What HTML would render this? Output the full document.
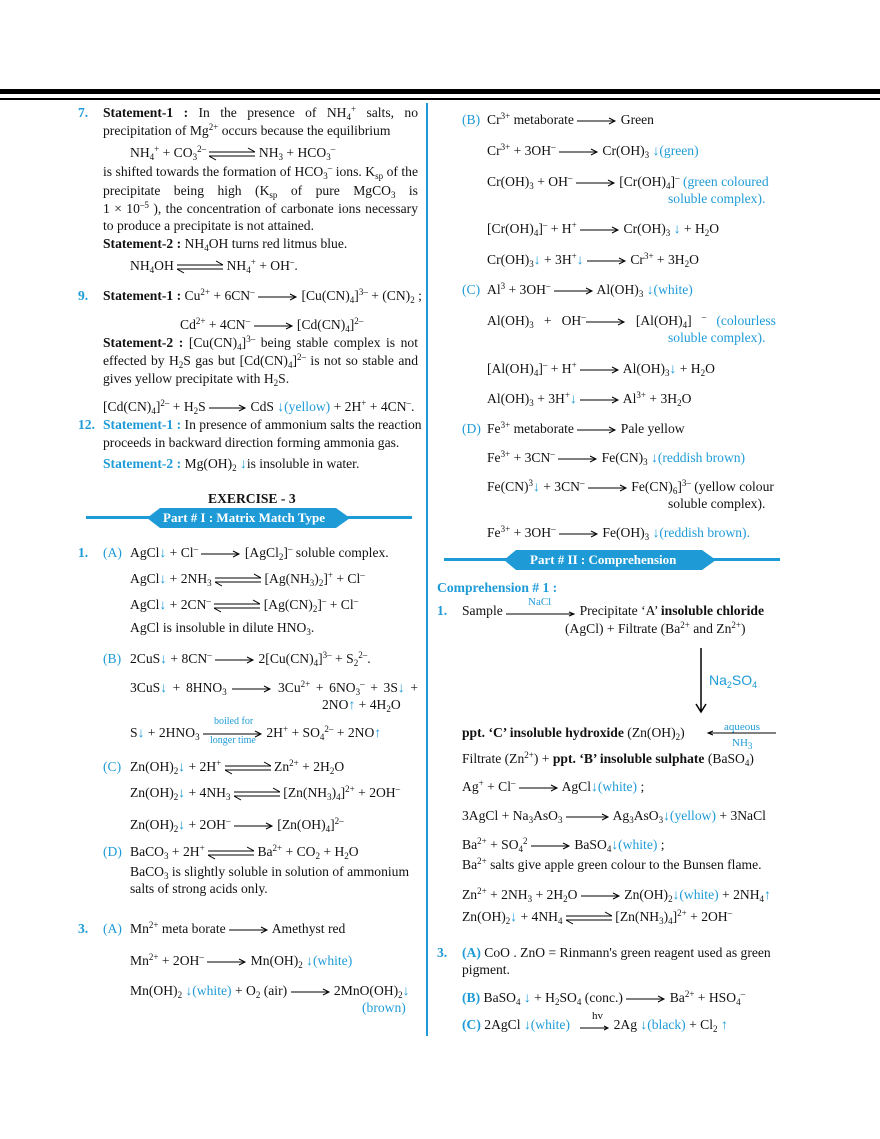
<!DOCTYPE html>
<html><head><meta charset="utf-8">
<style>
html,body{margin:0;padding:0;background:#fff;}
body{width:880px;height:1139px;position:relative;overflow:hidden;font-family:"Liberation Serif",serif;font-size:13.6px;color:#111;}
.l{position:absolute;white-space:nowrap;line-height:18px;height:18px;}
.j{white-space:normal;text-align:justify;text-align-last:justify;overflow:hidden;}
.b{color:#1e9bd7;}
.bb{color:#1e9bd7;font-weight:bold;}
b{font-weight:bold;}
sub{font-size:9px;vertical-align:-3px;line-height:0;}
sup{font-size:9px;vertical-align:5px;line-height:0;}
svg{vertical-align:middle;}
.n{position:absolute;line-height:18px;font-weight:bold;color:#1e9bd7;}
</style></head><body>
<div style="position:absolute;left:0;top:89px;width:880px;height:5px;background:#000"></div>
<div style="position:absolute;left:0;top:98px;width:880px;height:2px;background:#000"></div>
<div style="position:absolute;left:426px;top:103px;width:2px;height:933px;background:#1e9bd7"></div>

<!-- LEFT COLUMN -->
<div class="n" style="left:78px;top:104px">7.</div>
<div class="l j" style="left:103px;top:104px;width:315px"><b>Statement-1 :</b> In the presence of NH<sub>4</sub><sup>+</sup> salts, no</div>
<div class="l" style="left:103px;top:122px">precipitation of Mg<sup>2+</sup> occurs because the equilibrium</div>
<div class="l" style="left:130px;top:144px">NH<sub>4</sub><sup>+</sup> + CO<sub>3</sub><sup>2–</sup> <svg width="46" height="14"><path d="M0 5H46M39 1L46 5M0 9H46M7 13L0 9" stroke="#000" fill="none"/></svg> NH<sub>3</sub> + HCO<sub>3</sub><sup>–</sup></div>
<div class="l j" style="left:103px;top:163px;width:315px">is shifted towards the formation of HCO<sub>3</sub><sup>–</sup> ions. K<sub>sp</sub> of the</div>
<div class="l j" style="left:103px;top:182px;width:315px">precipitate being high (K<sub>sp</sub> of pure MgCO<sub>3</sub> is</div>
<div class="l j" style="left:103px;top:200px;width:315px">1 × 10<sup>–5</sup> ), the concentration of carbonate ions necessary</div>
<div class="l" style="left:103px;top:217px">to produce a precipitate is not attained.</div>
<div class="l" style="left:103px;top:235px"><b>Statement-2 :</b> NH<sub>4</sub>OH turns red litmus blue.</div>
<div class="l" style="left:130px;top:257px">NH<sub>4</sub>OH <svg width="46" height="14"><path d="M0 5H46M39 1L46 5M0 9H46M7 13L0 9" stroke="#000" fill="none"/></svg> NH<sub>4</sub><sup>+</sup> + OH<sup>–</sup>.</div>

<div class="n" style="left:78px;top:287px">9.</div>
<div class="l" style="left:103px;top:287px"><b>Statement-1 :</b> Cu<sup>2+</sup> + 6CN<sup>–</sup> <svg width="40" height="10"><path d="M0 5H38M32 2L38 5L32 8" stroke="#000" fill="none"/></svg> [Cu(CN)<sub>4</sub>]<sup>3–</sup> + (CN)<sub>2</sub> ;</div>
<div class="l" style="left:180px;top:316px">Cd<sup>2+</sup> + 4CN<sup>–</sup> <svg width="40" height="10"><path d="M0 5H38M32 2L38 5L32 8" stroke="#000" fill="none"/></svg> [Cd(CN)<sub>4</sub>]<sup>2–</sup></div>
<div class="l j" style="left:103px;top:334px;width:315px"><b>Statement-2 :</b> [Cu(CN)<sub>4</sub>]<sup>3–</sup> being stable complex is not</div>
<div class="l j" style="left:103px;top:352px;width:315px">effected by H<sub>2</sub>S gas but [Cd(CN)<sub>4</sub>]<sup>2–</sup> is not so stable and</div>
<div class="l" style="left:103px;top:370px">gives yellow precipitate with H<sub>2</sub>S.</div>
<div class="l" style="left:103px;top:398px">[Cd(CN)<sub>4</sub>]<sup>2–</sup> + H<sub>2</sub>S <svg width="38" height="10"><path d="M0 5H36M30 2L36 5L30 8" stroke="#000" fill="none"/></svg> CdS <span class="b">↓(yellow)</span> + 2H<sup>+</sup> + 4CN<sup>–</sup>.</div>
<div class="n" style="left:78px;top:416px">12.</div>
<div class="l" style="left:103px;top:416px"><span class="bb">Statement-1 :</span> In presence of ammonium salts the reaction</div>
<div class="l" style="left:103px;top:434px">proceeds in backward direction forming ammonia gas.</div>
<div class="l" style="left:103px;top:455px"><span class="bb">Statement-2 :</span> Mg(OH)<sub>2</sub> <span class="b">↓</span>is insoluble in water.</div>

<div class="l" style="left:208px;top:490px;font-weight:bold">EXERCISE - 3</div>
<svg style="position:absolute;left:86px;top:507px" width="326" height="22"><rect x="0" y="9" width="326" height="3" fill="#1e9bd7"/><polygon points="61,11 74,1 250,1 264,11 250,21 74,21" fill="#1e9bd7"/></svg>
<div class="l" style="left:163px;top:509px;color:#fff;font-weight:bold;font-size:13px">Part # I : Matrix Match Type</div>

<div class="n" style="left:78px;top:544px">1.</div>
<div class="l b" style="left:103px;top:544px">(A)</div>
<div class="l" style="left:130px;top:544px">AgCl<span class="b">↓</span> + Cl<sup>–</sup> <svg width="40" height="10"><path d="M0 5H38M32 2L38 5L32 8" stroke="#000" fill="none"/></svg> [AgCl<sub>2</sub>]<sup>–</sup> soluble complex.</div>
<div class="l" style="left:130px;top:570px">AgCl<span class="b">↓</span> + 2NH<sub>3</sub> <svg width="46" height="14"><path d="M0 5H46M39 1L46 5M0 9H46M7 13L0 9" stroke="#000" fill="none"/></svg> [Ag(NH<sub>3</sub>)<sub>2</sub>]<sup>+</sup> + Cl<sup>–</sup></div>
<div class="l" style="left:130px;top:596px">AgCl<span class="b">↓</span> + 2CN<sup>–</sup> <svg width="46" height="14"><path d="M0 5H46M39 1L46 5M0 9H46M7 13L0 9" stroke="#000" fill="none"/></svg> [Ag(CN)<sub>2</sub>]<sup>–</sup> + Cl<sup>–</sup></div>
<div class="l" style="left:130px;top:619px">AgCl is insoluble in dilute HNO<sub>3</sub>.</div>

<div class="l b" style="left:103px;top:650px">(B)</div>
<div class="l" style="left:130px;top:650px">2CuS<span class="b">↓</span> + 8CN<sup>–</sup> <svg width="40" height="10"><path d="M0 5H38M32 2L38 5L32 8" stroke="#000" fill="none"/></svg> 2[Cu(CN)<sub>4</sub>]<sup>3–</sup> + S<sub>2</sub><sup>2–</sup>.</div>
<div class="l j" style="left:130px;top:679px;width:288px">3CuS<span class="b">↓</span> + 8HNO<sub>3</sub> <svg width="40" height="10"><path d="M0 5H38M32 2L38 5L32 8" stroke="#000" fill="none"/></svg> 3Cu<sup>2+</sup> + 6NO<sub>3</sub><sup>–</sup> + 3S<span class="b">↓</span> +</div>
<div class="l" style="left:322px;top:696px">2NO<span class="b">↑</span> + 4H<sub>2</sub>O</div>
<div class="l" style="left:130px;top:724px">S<span class="b">↓</span> + 2HNO<sub>3</sub> <svg width="60" height="10"><path d="M0 5H58M52 2L58 5L52 8" stroke="#000" fill="none"/></svg> 2H<sup>+</sup> + SO<sub>4</sub><sup>2–</sup> + 2NO<span class="b">↑</span></div>
<div class="l b" style="left:214px;top:716px;font-size:10px;line-height:12px">boiled for</div>
<div class="l b" style="left:210px;top:735px;font-size:10px;line-height:12px">longer time</div>

<div class="l b" style="left:103px;top:758px">(C)</div>
<div class="l" style="left:130px;top:758px">Zn(OH)<sub>2</sub><span class="b">↓</span> + 2H<sup>+</sup> <svg width="46" height="14"><path d="M0 5H46M39 1L46 5M0 9H46M7 13L0 9" stroke="#000" fill="none"/></svg> Zn<sup>2+</sup> + 2H<sub>2</sub>O</div>
<div class="l" style="left:130px;top:784px">Zn(OH)<sub>2</sub><span class="b">↓</span> + 4NH<sub>3</sub> <svg width="46" height="14"><path d="M0 5H46M39 1L46 5M0 9H46M7 13L0 9" stroke="#000" fill="none"/></svg> [Zn(NH<sub>3</sub>)<sub>4</sub>]<sup>2+</sup> + 2OH<sup>–</sup></div>
<div class="l" style="left:130px;top:816px">Zn(OH)<sub>2</sub><span class="b">↓</span> + 2OH<sup>–</sup> <svg width="40" height="10"><path d="M0 5H38M32 2L38 5L32 8" stroke="#000" fill="none"/></svg> [Zn(OH)<sub>4</sub>]<sup>2–</sup></div>
<div class="l b" style="left:103px;top:843px">(D)</div>
<div class="l" style="left:130px;top:843px">BaCO<sub>3</sub> + 2H<sup>+</sup> <svg width="46" height="14"><path d="M0 5H46M39 1L46 5M0 9H46M7 13L0 9" stroke="#000" fill="none"/></svg> Ba<sup>2+</sup> + CO<sub>2</sub> + H<sub>2</sub>O</div>
<div class="l" style="left:130px;top:863px">BaCO<sub>3</sub> is slightly soluble in solution of ammonium</div>
<div class="l" style="left:130px;top:880px">salts of strong acids only.</div>

<div class="n" style="left:78px;top:920px">3.</div>
<div class="l b" style="left:103px;top:920px">(A)</div>
<div class="l" style="left:130px;top:920px">Mn<sup>2+</sup> meta borate <svg width="40" height="10"><path d="M0 5H38M32 2L38 5L32 8" stroke="#000" fill="none"/></svg> Amethyst red</div>
<div class="l" style="left:130px;top:952px">Mn<sup>2+</sup> + 2OH<sup>–</sup> <svg width="40" height="10"><path d="M0 5H38M32 2L38 5L32 8" stroke="#000" fill="none"/></svg> Mn(OH)<sub>2</sub> <span class="b">↓(white)</span></div>
<div class="l" style="left:130px;top:982px">Mn(OH)<sub>2</sub> <span class="b">↓(white)</span> + O<sub>2</sub> (air) <svg width="40" height="10"><path d="M0 5H38M32 2L38 5L32 8" stroke="#000" fill="none"/></svg> 2MnO(OH)<sub>2</sub><span class="b">↓</span></div>
<div class="l b" style="left:362px;top:999px">(brown)</div>

<!-- RIGHT COLUMN -->
<div class="l b" style="left:462px;top:111px">(B)</div>
<div class="l" style="left:487px;top:111px">Cr<sup>3+</sup> metaborate <svg width="40" height="10"><path d="M0 5H38M32 2L38 5L32 8" stroke="#000" fill="none"/></svg> Green</div>
<div class="l" style="left:487px;top:142px">Cr<sup>3+</sup> + 3OH<sup>–</sup> <svg width="40" height="10"><path d="M0 5H38M32 2L38 5L32 8" stroke="#000" fill="none"/></svg> Cr(OH)<sub>3</sub> <span class="b">↓(green)</span></div>
<div class="l" style="left:487px;top:173px">Cr(OH)<sub>3</sub> + OH<sup>–</sup> <svg width="40" height="10"><path d="M0 5H38M32 2L38 5L32 8" stroke="#000" fill="none"/></svg> [Cr(OH)<sub>4</sub>]<sup>–</sup> <span class="b">(green coloured</span></div>
<div class="l b" style="left:668px;top:190px">soluble complex).</div>
<div class="l" style="left:487px;top:220px">[Cr(OH)<sub>4</sub>]<sup>–</sup> + H<sup>+</sup> <svg width="40" height="10"><path d="M0 5H38M32 2L38 5L32 8" stroke="#000" fill="none"/></svg> Cr(OH)<sub>3</sub> <span class="b">↓</span> + H<sub>2</sub>O</div>
<div class="l" style="left:487px;top:251px">Cr(OH)<sub>3</sub><span class="b">↓</span> + 3H<sup>+</sup><span class="b">↓</span> <svg width="40" height="10"><path d="M0 5H38M32 2L38 5L32 8" stroke="#000" fill="none"/></svg> Cr<sup>3+</sup> + 3H<sub>2</sub>O</div>
<div class="l b" style="left:462px;top:281px">(C)</div>
<div class="l" style="left:487px;top:281px">Al<sup>3</sup> + 3OH<sup>–</sup> <svg width="40" height="10"><path d="M0 5H38M32 2L38 5L32 8" stroke="#000" fill="none"/></svg> Al(OH)<sub>3</sub> <span class="b">↓(white)</span></div>
<div class="l j" style="left:487px;top:312px;width:289px">Al(OH)<sub>3</sub> + OH<sup>–</sup><svg width="40" height="10"><path d="M0 5H38M32 2L38 5L32 8" stroke="#000" fill="none"/></svg> [Al(OH)<sub>4</sub>] <sup>–</sup> <span class="b">(colourless</span></div>
<div class="l b" style="left:668px;top:329px">soluble complex).</div>
<div class="l" style="left:487px;top:360px">[Al(OH)<sub>4</sub>]<sup>–</sup> + H<sup>+</sup> <svg width="40" height="10"><path d="M0 5H38M32 2L38 5L32 8" stroke="#000" fill="none"/></svg> Al(OH)<sub>3</sub><span class="b">↓</span> + H<sub>2</sub>O</div>
<div class="l" style="left:487px;top:390px">Al(OH)<sub>3</sub> + 3H<sup>+</sup><span class="b">↓</span> <svg width="40" height="10"><path d="M0 5H38M32 2L38 5L32 8" stroke="#000" fill="none"/></svg> Al<sup>3+</sup> + 3H<sub>2</sub>O</div>
<div class="l b" style="left:462px;top:420px">(D)</div>
<div class="l" style="left:487px;top:420px">Fe<sup>3+</sup> metaborate <svg width="40" height="10"><path d="M0 5H38M32 2L38 5L32 8" stroke="#000" fill="none"/></svg> Pale yellow</div>
<div class="l" style="left:487px;top:449px">Fe<sup>3+</sup> + 3CN<sup>–</sup> <svg width="40" height="10"><path d="M0 5H38M32 2L38 5L32 8" stroke="#000" fill="none"/></svg> Fe(CN)<sub>3</sub> <span class="b">↓(reddish brown)</span></div>
<div class="l" style="left:487px;top:478px">Fe(CN)<sup>3</sup><span class="b">↓</span> + 3CN<sup>–</sup> <svg width="40" height="10"><path d="M0 5H38M32 2L38 5L32 8" stroke="#000" fill="none"/></svg> Fe(CN)<sub>6</sub>]<sup>3–</sup> (yellow colour</div>
<div class="l" style="left:668px;top:495px">soluble complex).</div>
<div class="l" style="left:487px;top:524px">Fe<sup>3+</sup> + 3OH<sup>–</sup> <svg width="40" height="10"><path d="M0 5H38M32 2L38 5L32 8" stroke="#000" fill="none"/></svg> Fe(OH)<sub>3</sub> <span class="b">↓(reddish brown).</span></div>

<svg style="position:absolute;left:444px;top:549px" width="336" height="22"><rect x="0" y="9" width="336" height="3" fill="#1e9bd7"/><polygon points="60,11 72,1 258,1 272,11 258,21 72,21" fill="#1e9bd7"/></svg>
<div class="l" style="left:530px;top:551px;color:#fff;font-weight:bold;font-size:13px">Part # II : Comprehension</div>

<div class="l bb" style="left:437px;top:579px">Comprehension # 1 :</div>
<div class="n" style="left:437px;top:602px">1.</div>
<div class="l" style="left:462px;top:602px">Sample <svg width="70" height="10"><path d="M0 7H68M63 5L68 7L63 9" stroke="#000" fill="none"/></svg> Precipitate ‘A’ <b>insoluble chloride</b></div>
<div class="l b" style="left:528px;top:596px;font-size:11px;line-height:12px">NaCl</div>
<div class="l" style="left:565px;top:620px">(AgCl) + Filtrate (Ba<sup>2+</sup> and Zn<sup>2+</sup>)</div>
<svg style="position:absolute;left:695px;top:648px" width="12" height="66"><path d="M6 0V64M1 56L6 64L11 56" stroke="#000" stroke-width="1.5" fill="none"/></svg>
<div class="l b" style="left:709px;top:671px;font-family:'Liberation Sans',sans-serif;font-size:14px">Na<sub>2</sub>SO<sub>4</sub></div>
<div class="l" style="left:462px;top:724px"><b>ppt. ‘C’ insoluble hydroxide</b> (Zn(OH)<sub>2</sub>)</div>
<svg style="position:absolute;left:706px;top:728px" width="72" height="10"><path d="M70 5H2M7 3L2 5L7 7" stroke="#000" fill="none"/></svg>
<div class="l b" style="left:724px;top:721px;font-size:11px;line-height:12px">aqueous</div>
<div class="l b" style="left:732px;top:737px;font-size:11px;line-height:12px">NH<sub>3</sub></div>
<div class="l" style="left:462px;top:750px">Filtrate (Zn<sup>2+</sup>) + <b>ppt. ‘B’ insoluble sulphate</b> (BaSO<sub>4</sub>)</div>
<div class="l" style="left:462px;top:778px">Ag<sup>+</sup> + Cl<sup>–</sup> <svg width="40" height="10"><path d="M0 5H38M32 2L38 5L32 8" stroke="#000" fill="none"/></svg> AgCl<span class="b">↓(white)</span> ;</div>
<div class="l" style="left:462px;top:807px">3AgCl + Na<sub>3</sub>AsO<sub>3</sub> <svg width="44" height="10"><path d="M0 5H42M36 2L42 5L36 8" stroke="#000" fill="none"/></svg> Ag<sub>3</sub>AsO<sub>3</sub><span class="b">↓(yellow)</span> + 3NaCl</div>
<div class="l" style="left:462px;top:836px">Ba<sup>2+</sup> + SO<sub>4</sub><sup>2</sup> <svg width="40" height="10"><path d="M0 5H38M32 2L38 5L32 8" stroke="#000" fill="none"/></svg> BaSO<sub>4</sub><span class="b">↓(white)</span> ;</div>
<div class="l" style="left:462px;top:856px">Ba<sup>2+</sup> salts give apple green colour to the Bunsen flame.</div>
<div class="l" style="left:462px;top:886px">Zn<sup>2+</sup> + 2NH<sub>3</sub> + 2H<sub>2</sub>O <svg width="40" height="10"><path d="M0 5H38M32 2L38 5L32 8" stroke="#000" fill="none"/></svg> Zn(OH)<sub>2</sub><span class="b">↓(white)</span> + 2NH<sub>4</sub><span class="b">↑</span></div>
<div class="l" style="left:462px;top:908px">Zn(OH)<sub>2</sub><span class="b">↓</span> + 4NH<sub>4</sub> <svg width="46" height="14"><path d="M0 5H46M39 1L46 5M0 9H46M7 13L0 9" stroke="#000" fill="none"/></svg> [Zn(NH<sub>3</sub>)<sub>4</sub>]<sup>2+</sup> + 2OH<sup>–</sup></div>

<div class="n" style="left:437px;top:944px">3.</div>
<div class="l" style="left:462px;top:944px"><span class="bb">(A)</span> CoO . ZnO = Rinmann's green reagent used as green</div>
<div class="l" style="left:462px;top:961px">pigment.</div>
<div class="l" style="left:462px;top:989px"><span class="bb">(B)</span> BaSO<sub>4</sub> <span class="b">↓</span> + H<sub>2</sub>SO<sub>4</sub> (conc.) <svg width="40" height="10"><path d="M0 5H38M32 2L38 5L32 8" stroke="#000" fill="none"/></svg> Ba<sup>2+</sup> + HSO<sub>4</sub><sup>–</sup></div>
<div class="l" style="left:462px;top:1016px"><span class="bb">(C)</span> 2AgCl <span class="b">↓(white)</span> &nbsp;&nbsp;<svg width="30" height="10"><path d="M0 7H28M24 5L28 7L24 9" stroke="#000" fill="none"/></svg> 2Ag <span class="b">↓(black)</span> + Cl<sub>2</sub> <span class="b">↑</span></div>
<div class="l" style="left:592px;top:1010px;font-size:11px;line-height:12px">hv</div>
</body></html>
